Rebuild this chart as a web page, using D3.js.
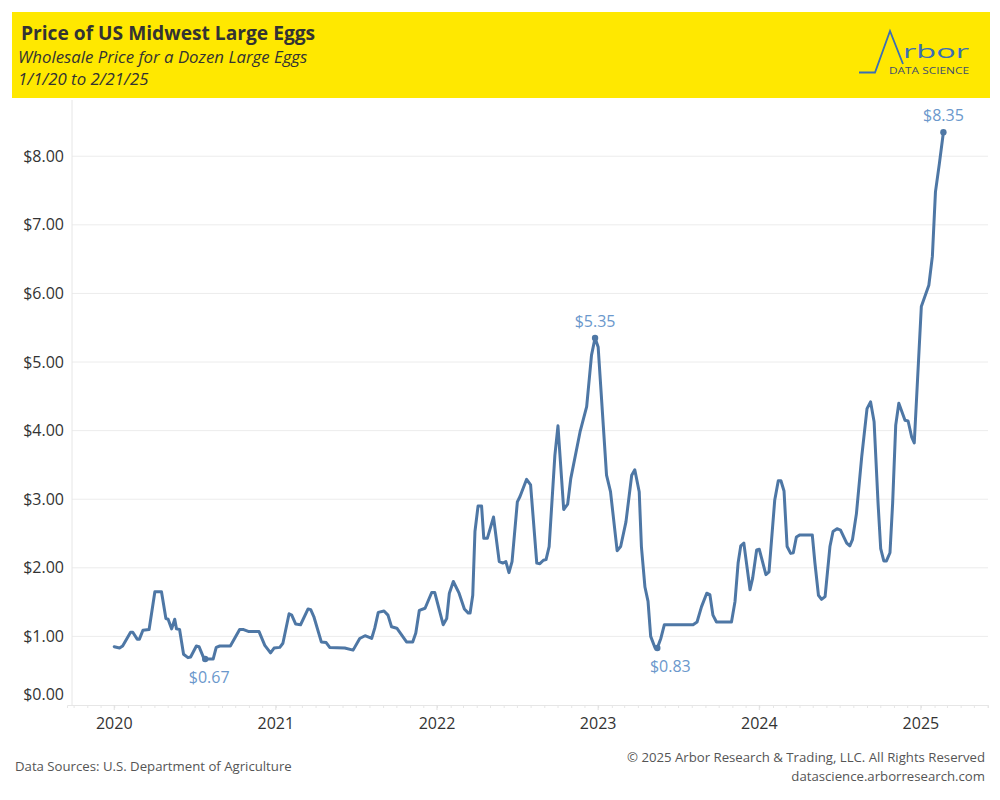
<!DOCTYPE html>
<html>
<head>
<meta charset="utf-8">
<script src="https://cdn.jsdelivr.net/npm/d3@7"></script>
<style>
  body { margin: 0; background: #fff; }
  svg text { font-family: "Open Sans", sans-serif; }
</style>
</head>
<body>
<div id="chart"></div>
<script>
const width = 1000;
const height = 800;

// weekly wholesale price at its turning points
const dates = [
  "2020-01-01", "2020-01-13", "2020-01-20", "2020-02-07", "2020-02-12", "2020-02-22", "2020-02-27",
  "2020-03-06", "2020-03-20", "2020-04-02", "2020-04-17", "2020-04-27", "2020-05-02", "2020-05-10",
  "2020-05-17", "2020-05-21", "2020-05-28", "2020-06-06", "2020-06-16", "2020-06-22", "2020-07-05",
  "2020-07-11", "2020-07-22", "2020-07-25", "2020-08-12", "2020-08-19", "2020-08-27", "2020-09-20",
  "2020-10-11", "2020-10-20", "2020-11-01", "2020-11-24", "2020-12-07", "2020-12-20", "2020-12-28",
  "2021-01-10", "2021-01-17", "2021-01-31", "2021-02-06", "2021-02-15", "2021-02-26", "2021-03-15",
  "2021-03-21", "2021-03-28", "2021-04-14", "2021-04-25", "2021-05-03", "2021-06-06", "2021-06-25",
  "2021-07-10", "2021-07-22", "2021-08-06", "2021-08-13", "2021-08-21", "2021-09-03", "2021-09-12",
  "2021-09-20", "2021-10-02", "2021-10-24", "2021-11-07", "2021-11-14", "2021-11-22", "2021-12-05",
  "2021-12-20", "2021-12-27", "2022-01-15", "2022-01-23", "2022-01-29", "2022-02-07", "2022-02-20",
  "2022-03-04", "2022-03-13", "2022-03-17", "2022-03-23", "2022-03-28", "2022-04-04", "2022-04-12",
  "2022-04-17", "2022-04-25", "2022-05-09", "2022-05-22", "2022-05-30", "2022-06-06", "2022-06-13",
  "2022-06-20", "2022-07-02", "2022-07-08", "2022-07-23", "2022-08-01", "2022-08-15", "2022-08-22",
  "2022-08-30", "2022-09-05", "2022-09-12", "2022-09-25", "2022-10-02", "2022-10-15", "2022-10-24",
  "2022-10-31", "2022-11-21", "2022-12-06", "2022-12-17", "2022-12-25", "2023-01-01", "2023-01-20",
  "2023-01-29", "2023-02-13", "2023-02-21", "2023-03-05", "2023-03-18", "2023-03-25", "2023-04-04",
  "2023-04-09", "2023-04-17", "2023-04-24", "2023-04-30", "2023-05-10", "2023-05-15", "2023-05-23",
  "2023-05-31", "2023-08-04", "2023-08-13", "2023-08-23", "2023-09-04", "2023-09-11", "2023-09-18",
  "2023-09-26", "2023-10-30", "2023-11-07", "2023-11-14", "2023-11-20", "2023-11-27", "2023-12-11",
  "2023-12-17", "2023-12-26", "2024-01-01", "2024-01-16", "2024-01-23", "2024-02-05", "2024-02-13",
  "2024-02-19", "2024-02-26", "2024-03-04", "2024-03-12", "2024-03-18", "2024-03-25", "2024-04-02",
  "2024-04-30", "2024-05-06", "2024-05-14", "2024-05-21", "2024-05-29", "2024-06-09", "2024-06-16",
  "2024-06-25", "2024-07-03", "2024-07-17", "2024-07-24", "2024-07-30", "2024-08-08", "2024-08-20",
  "2024-09-01", "2024-09-09", "2024-09-17", "2024-09-26", "2024-10-02", "2024-10-09", "2024-10-15",
  "2024-10-23", "2024-10-29", "2024-11-05", "2024-11-12", "2024-11-26", "2024-12-03", "2024-12-11",
  "2024-12-17", "2025-01-02", "2025-01-19", "2025-01-27", "2025-02-03", "2025-02-12", "2025-02-21"
];

const prices = [
  0.85, 0.83, 0.86, 1.06, 1.06, 0.96, 0.96,
  1.09, 1.10, 1.65, 1.65, 1.26, 1.25, 1.11,
  1.25, 1.11, 1.10, 0.74, 0.69, 0.70, 0.86,
  0.85, 0.68, 0.67, 0.67, 0.84, 0.86, 0.86,
  1.10, 1.10, 1.07, 1.07, 0.87, 0.76, 0.83,
  0.84, 0.90, 1.33, 1.31, 1.18, 1.17, 1.40,
  1.39, 1.29, 0.92, 0.91, 0.84, 0.83, 0.80,
  0.97, 1.01, 0.97, 1.12, 1.35, 1.37, 1.31,
  1.14, 1.12, 0.92, 0.92, 1.05, 1.38, 1.41,
  1.64, 1.64, 1.17, 1.26, 1.63, 1.80, 1.63,
  1.40, 1.34, 1.34, 1.60, 2.53, 2.90, 2.90,
  2.43, 2.43, 2.74, 2.09, 2.07, 2.09, 1.93,
  2.09, 2.96, 3.04, 3.29, 3.21, 2.07, 2.06,
  2.11, 2.12, 2.31, 3.64, 4.07, 2.85, 2.93,
  3.30, 3.98, 4.35, 5.10, 5.35, 5.22, 3.35,
  3.11, 2.25, 2.31, 2.67, 3.35, 3.43, 3.11,
  2.31, 1.72, 1.51, 1.00, 0.83, 0.83, 0.97,
  1.17, 1.17, 1.21, 1.43, 1.63, 1.61, 1.31,
  1.21, 1.21, 1.51, 2.07, 2.32, 2.36, 1.68,
  1.85, 2.26, 2.27, 1.90, 1.94, 2.99, 3.27,
  3.27, 3.12, 2.31, 2.21, 2.22, 2.45, 2.48,
  2.48, 2.07, 1.60, 1.54, 1.58, 2.31, 2.53,
  2.57, 2.55, 2.36, 2.32, 2.41, 2.79, 3.62,
  4.32, 4.42, 4.13, 2.94, 2.28, 2.10, 2.10,
  2.22, 2.94, 4.08, 4.40, 4.15, 4.14, 3.91,
  3.82, 5.81, 6.12, 6.54, 7.48, 7.90, 8.35
];

const yTicks = [0, 1, 2, 3, 4, 5, 6, 7, 8];
const yearTicks = ["2020", "2021", "2022", "2023", "2024", "2025"];

// labelled points: low 2020, 2022 peak, 2023 low, latest
const markDates = ["2020-07-25", "2022-12-25", "2023-05-15", "2025-02-21"];
const markPos = ["below", "above", "below", "above"];
const markDx = [4, 0, 13, 0];

const parse = d3.timeParse("%Y-%m-%d");
const data = dates.map((d, i) => ({ date: parse(d), value: prices[i] }));

const svg = d3.select("#chart").append("svg")
  .attr("width", width)
  .attr("height", height);

// header band
svg.append("rect")
  .attr("x", 12).attr("y", 12)
  .attr("width", 978).attr("height", 86)
  .attr("fill", "#ffe800");

svg.append("text")
  .attr("x", 21).attr("y", 40)
  .attr("font-size", 19.2).attr("font-weight", 700)
  .attr("fill", "#333")
  .text("Price of US Midwest Large Eggs");

svg.append("text")
  .attr("x", 18).attr("y", 63)
  .attr("font-size", 16.8).attr("font-style", "italic")
  .attr("fill", "#333")
  .text("Wholesale Price for a Dozen Large Eggs");

svg.append("text")
  .attr("x", 18).attr("y", 85)
  .attr("font-size", 16.8).attr("font-style", "italic")
  .attr("fill", "#333")
  .text("1/1/20 to 2/21/25");

// logo
const logo = svg.append("g");
logo.append("path")
  .attr("d", "M859,72.5 H875 L890,31 L903,64")
  .attr("fill", "none")
  .attr("stroke", "#3b6eb4")
  .attr("stroke-width", 1.8);
logo.append("text")
  .attr("x", 903).attr("y", 57.5)
  .attr("font-size", 18)
  .attr("fill", "#3b6eb4")
  .attr("textLength", 66).attr("lengthAdjust", "spacingAndGlyphs")
  .text("rbor");
logo.append("text")
  .attr("x", 889).attr("y", 73.5)
  .attr("font-size", 9.6)
  .attr("fill", "#3e4f6e")
  .attr("textLength", 80).attr("lengthAdjust", "spacingAndGlyphs")
  .text("DATA SCIENCE");

// scales
const x = d3.scaleTime()
  .domain([parse("2019-09-16"), parse("2025-06-02")])
  .range([67, 988]);

const y = d3.scaleLinear()
  .domain([0, 8.82])
  .range([705, 100]);

// gridlines
svg.append("g")
  .selectAll("line")
  .data(yTicks.filter(d => d > 0))
  .enter().append("line")
  .attr("x1", 72).attr("x2", 988)
  .attr("y1", d => y(d)).attr("y2", d => y(d))
  .attr("stroke", "#ececec")
  .attr("stroke-width", 1);

// y labels
svg.append("g")
  .selectAll("text")
  .data(yTicks)
  .enter().append("text")
  .attr("x", 64)
  .attr("y", d => d === 0 ? y(d) - 11 : y(d))
  .attr("dy", "0.35em")
  .attr("text-anchor", "end")
  .attr("font-size", 16)
  .attr("fill", "#333")
  .text(d => d3.format("$.2f")(d));

// axis lines
svg.append("line")
  .attr("x1", 72).attr("x2", 72)
  .attr("y1", 100).attr("y2", 705)
  .attr("stroke", "#e6e6e6");

const xAxis = svg.append("g")
  .attr("transform", "translate(0,705)")
  .call(d3.axisBottom(x)
    .ticks(d3.timeMonth.every(1))
    .tickSize(3)
    .tickFormat(""));
xAxis.select(".domain").attr("stroke", "#e6e6e6");
xAxis.selectAll(".tick line").attr("stroke", "#e6e6e6");

svg.append("g")
  .selectAll("text")
  .data(yearTicks)
  .enter().append("text")
  .attr("x", d => x(parse(d + "-01-01")))
  .attr("y", 729)
  .attr("text-anchor", "middle")
  .attr("font-size", 16)
  .attr("fill", "#333")
  .text(d => d);

svg.append("g")
  .selectAll("line")
  .data(yearTicks)
  .enter().append("line")
  .attr("x1", d => x(parse(d + "-01-01")))
  .attr("x2", d => x(parse(d + "-01-01")))
  .attr("y1", 705).attr("y2", 710)
  .attr("stroke", "#e0e0e0");

// price line
const line = d3.line()
  .x(d => x(d.date))
  .y(d => y(d.value));

svg.append("path")
  .datum(data)
  .attr("fill", "none")
  .attr("stroke", "#4e77a5")
  .attr("stroke-width", 3)
  .attr("stroke-linejoin", "round")
  .attr("stroke-linecap", "round")
  .attr("d", line);

// annotated points
const marks = markDates.map((d, i) => {
  const p = data[dates.indexOf(d)];
  return { date: p.date, value: p.value, pos: markPos[i], dx: markDx[i] };
});

svg.append("g")
  .selectAll("circle")
  .data(marks)
  .enter().append("circle")
  .attr("cx", d => x(d.date))
  .attr("cy", d => y(d.value))
  .attr("r", 3.2)
  .attr("fill", "#4e77a5");

svg.append("g")
  .selectAll("text")
  .data(marks)
  .enter().append("text")
  .attr("x", d => x(d.date) + d.dx)
  .attr("y", d => d.pos === "below" ? y(d.value) + 24 : y(d.value) - 11)
  .attr("text-anchor", "middle")
  .attr("font-size", 16)
  .attr("fill", "#6b98cc")
  .text(d => d3.format("$.2f")(d.value));

// footer
svg.append("text")
  .attr("x", 15).attr("y", 771)
  .attr("font-size", 13.2)
  .attr("fill", "#555")
  .text("Data Sources: U.S. Department of Agriculture");

svg.append("text")
  .attr("x", 985).attr("y", 762)
  .attr("text-anchor", "end")
  .attr("font-size", 13.2)
  .attr("fill", "#555")
  .text("© 2025 Arbor Research & Trading, LLC. All Rights Reserved");

svg.append("text")
  .attr("x", 985).attr("y", 781)
  .attr("text-anchor", "end")
  .attr("font-size", 13.2)
  .attr("fill", "#555")
  .text("datascience.arborresearch.com");
</script>
</body>
</html>
